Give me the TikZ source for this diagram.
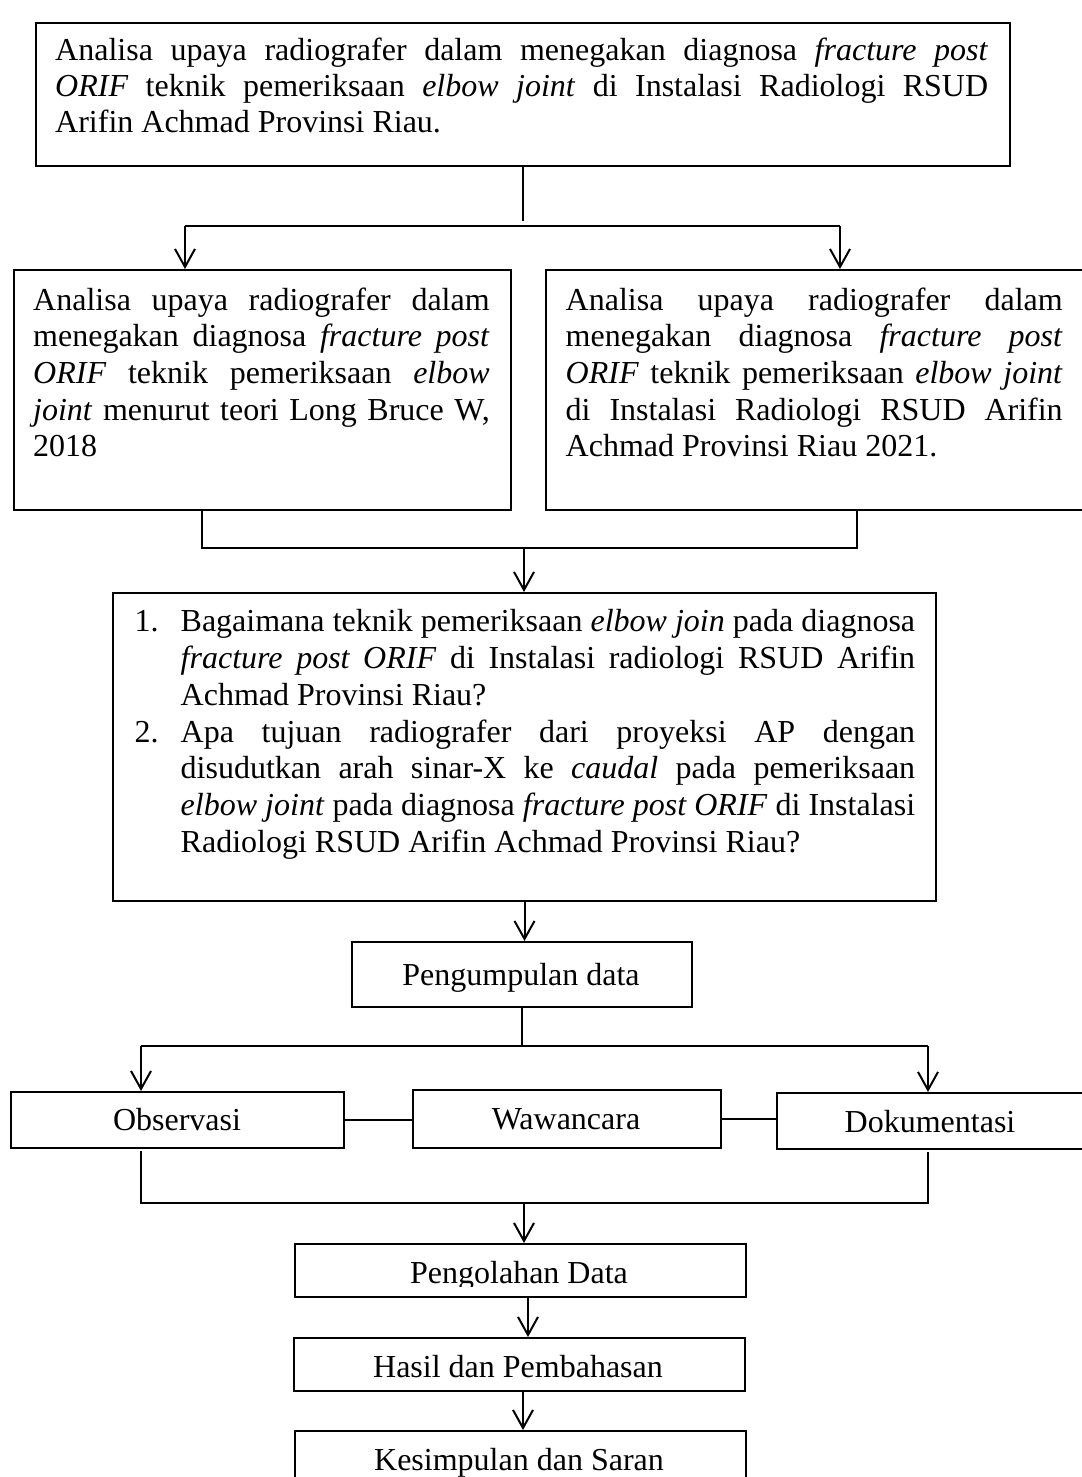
\documentclass[tikz,border=0pt]{standalone}
\usepackage{fontspec}
\setmainfont{Liberation Serif}
\usetikzlibrary{arrows.meta}
\hyphenpenalty=10000
\exhyphenpenalty=10000
\tolerance=9999
\begin{document}
\begin{tikzpicture}[x=1pt,y=-1pt,
  box/.style={draw, line width=2pt, inner sep=0pt, anchor=north west},
  lbl/.style={inner sep=0pt, anchor=base},
  para/.style={inner sep=0pt, anchor=base west, align=justify},
  conn/.style={line width=2pt},
  arr/.style={line width=2pt, -{Straight Barb[length=18pt,width=20pt]}},
  font=\fontsize{32}{36.7}\selectfont]
\useasboundingbox (0,0) rectangle (1081,1477);

% boxes
\node[box, minimum width=974, minimum height=143] (top) at (35,22) {};
\node[box, minimum width=497, minimum height=240] (left) at (13,269) {};
\node[box, minimum width=580, minimum height=240] (right) at (545,269) {};
\node[box, minimum width=823, minimum height=308] (q) at (112,592) {};
\node[box, minimum width=340, minimum height=65] (peng) at (351,941) {};
\node[box, minimum width=333, minimum height=56] (obs) at (10,1091) {};
\node[box, minimum width=308, minimum height=58] (waw) at (412,1089) {};
\node[box, minimum width=340, minimum height=56] (dok) at (776,1092) {};
\node[box, minimum width=451, minimum height=53] (olah) at (294,1243) {};
\node[box, minimum width=451, minimum height=53] (hasil) at (293,1337) {};
\node[box, minimum width=451, minimum height=80] (kes) at (294,1430) {};

% texts
\node[para, text width=933, font=\fontsize{32}{36}\selectfont] (ttop) at (55,61)
 {Analisa upaya radiografer dalam menegakan diagnosa \textit{fracture post}\linebreak
  \textit{ORIF} teknik pemeriksaan \textit{elbow joint} di Instalasi Radiologi RSUD\linebreak
  Arifin Achmad Provinsi Riau.};
\node[para, text width=456.5] (tleft) at (33,310)
 {Analisa upaya radiografer dalam\linebreak
  menegakan diagnosa \textit{fracture post}\linebreak
  \textit{ORIF} teknik pemeriksaan \textit{elbow}\linebreak
  \textit{joint} menurut teori Long Bruce W,\linebreak
  2018};
\node[para, text width=497] (tright) at (565.5,310)
 {Analisa upaya radiografer dalam\linebreak
  menegakan diagnosa \textit{fracture post}\linebreak
  \textit{ORIF} teknik pemeriksaan \textit{elbow joint}\linebreak
  di Instalasi Radiologi RSUD Arifin\linebreak
  Achmad Provinsi Riau 2021.};
\node[para, text width=734.5, font=\fontsize{32}{36.8}\selectfont] (tq) at (180.5,631.7)
 {\noindent\llap{\makebox[46pt][l]{1.}}Bagaimana teknik pemeriksaan \textit{elbow join} pada diagnosa\linebreak
  \textit{fracture post ORIF} di Instalasi radiologi RSUD Arifin\linebreak
  Achmad Provinsi Riau?\par
  \noindent\llap{\makebox[46pt][l]{2.}}Apa tujuan radiografer dari proyeksi AP dengan\linebreak
  disudutkan arah sinar-X ke \textit{caudal} pada pemeriksaan\linebreak
  \textit{elbow joint} pada diagnosa \textit{fracture post ORIF} di Instalasi\linebreak
  Radiologi RSUD Arifin Achmad Provinsi Riau?};
\node[lbl] (tpeng) at (521,985) {Pengumpulan data};
\node[lbl] (tobs) at (177,1130) {Observasi};
\node[lbl] (twaw) at (566,1129) {Wawancara};
\node[lbl] (tdok) at (930,1132) {Dokumentasi};
\begin{scope}
  \clip (294,1243) rectangle (745,1286);
  \node[lbl] (tolah) at (519,1283) {Pengolahan Data};
\end{scope}
\node[lbl] (thasil) at (518,1377) {Hasil dan Pembahasan};
\node[lbl] (tkes) at (519,1470) {Kesimpulan dan Saran};

% connectors
\coordinate (c1) at (522,221);
\coordinate (s1l) at (185,226);
\coordinate (s1r) at (840,226);
\draw[conn] (top.south) -- (top.south |- c1);
\draw[conn] (s1l) -- (s1r);
\draw[arr] (s1l) -- (s1l |- left.north);
\draw[arr] (s1r) -- (s1r |- right.north);

\coordinate (j1l) at (202,548);
\coordinate (j1r) at (857,548);
\coordinate (j1m) at (524,548);
\draw[conn] (j1l |- left.south) -- (j1l) -- (j1r) -- (j1r |- right.south);
\draw[arr] (j1m) -- (j1m |- q.north);

\draw[arr] (q.south) -- (q.south |- peng.north);

\coordinate (s2l) at (141,1046);
\coordinate (s2r) at (928,1046);
\coordinate (s2m) at (523,1046);
\draw[conn] (peng.south) -- (peng.south |- s2m);
\draw[conn] (s2l) -- (s2r);
\draw[arr] (s2l) -- (s2l |- obs.north);
\draw[arr] (s2r) -- (s2r |- dok.north);
\draw[conn] (obs.east) -- (obs.east -| waw.west);
\draw[conn] (waw.east) -- (waw.east -| dok.west);

\coordinate (j2l) at (141,1203);
\coordinate (j2r) at (928,1203);
\coordinate (j2m) at (524,1203);
\coordinate (j2lt) at (141,1151);
\coordinate (j2rt) at (928,1152);
\draw[conn] (j2lt) -- (j2l) -- (j2r) -- (j2rt);
\draw[arr] (j2m) -- (j2m |- olah.north);

\coordinate (a1) at (528,1296);
\draw[arr] (a1) -- (a1 |- hasil.north);
\coordinate (a2) at (523,1390);
\draw[arr] (a2) -- (a2 |- kes.north);
\end{tikzpicture}
\end{document}
